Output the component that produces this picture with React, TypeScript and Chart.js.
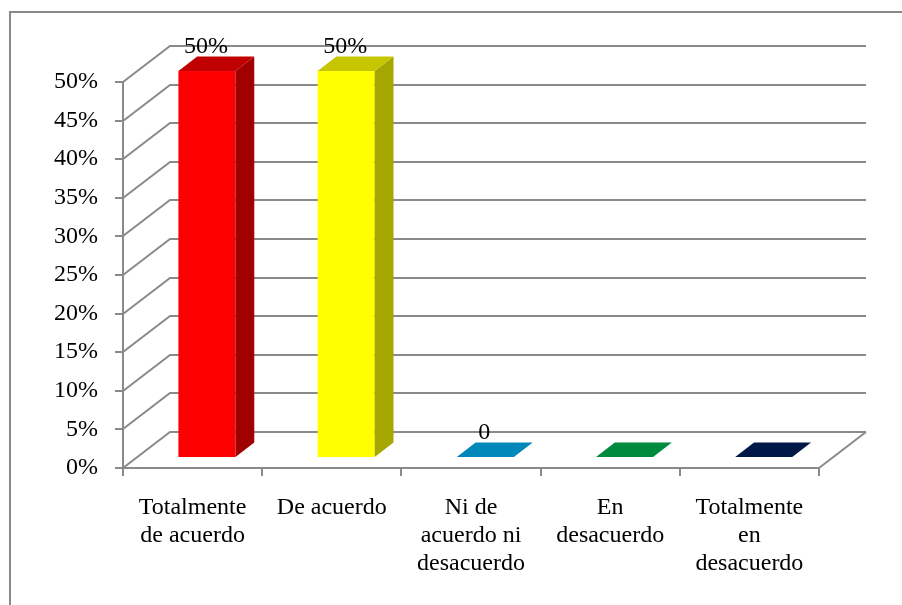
import React, { useEffect, useRef } from "react";
import { Chart, registerables } from "chart.js";

Chart.register(...registerables);

// ---- data ----
const categories: string[][] = [
  ["Totalmente", "de acuerdo"],
  ["De acuerdo"],
  ["Ni de", "acuerdo ni", "desacuerdo"],
  ["En", "desacuerdo"],
  ["Totalmente", "en", "desacuerdo"],
];
const values: number[] = [0.5, 0.5, 0, 0, 0];
const valueLabels: string[] = ["50%", "50%", "0", "", ""];
const yMin = 0;
const yMax = 0.5;
const yStep = 0.05;

// ---- styles ----
const FONT = "'Liberation Serif', 'Times New Roman', serif";
const GRID = "#8a8a8a";
const frontColors = ["#ff0000", "#ffff00", "#0a9bd0", "#00a24a", "#002060"];
const topColors = ["#c00000", "#c6c600", "#0088ba", "#008a3e", "#001848"];
const sideColors = ["#a00000", "#a6a600", "#006f99", "#006e31", "#00123a"];

const DX = 47;
const DY = 36;
const D1 = 0.305;
const D2 = 0.705;

const threeD = {
  id: "threeD",
  beforeDraw(chart: any) {
    const { ctx } = chart;
    ctx.save();
    ctx.strokeStyle = GRID;
    ctx.lineWidth = 2;
    ctx.beginPath();
    ctx.moveTo(10, 605);
    ctx.lineTo(10, 12);
    ctx.lineTo(902, 12);
    ctx.stroke();
    ctx.restore();
  },
  beforeDatasetsDraw(chart: any) {
    const { ctx, chartArea: a } = chart;
    const y = chart.scales.y;
    ctx.save();
    ctx.strokeStyle = GRID;
    ctx.lineWidth = 2;
    y.ticks.forEach((t: any) => {
      const py = Math.round(y.getPixelForValue(t.value));
      ctx.beginPath();
      ctx.moveTo(a.left, py);
      ctx.lineTo(a.left + DX, py - DY);
      ctx.lineTo(a.right + DX, py - DY);
      ctx.stroke();
    });
    ctx.beginPath();
    ctx.moveTo(a.right, a.bottom);
    ctx.lineTo(a.right + DX, a.bottom - DY);
    ctx.stroke();
    ctx.restore();
  },
  afterDatasetsDraw(chart: any) {
    const { ctx } = chart;
    const y = chart.scales.y;
    const meta = chart.getDatasetMeta(0);
    const base = y.getPixelForValue(0);
    ctx.save();
    meta.data.forEach((el: any, i: number) => {
      const v = values[i];
      const top = y.getPixelForValue(v);
      const w = el.width;
      const fx = el.x - w / 2 + D1 * DX;
      const fTop = top - D1 * DY;
      const fBot = base - D1 * DY;
      const ddx = (D2 - D1) * DX;
      const ddy = (D2 - D1) * DY;
      if (fBot - fTop > 0.5) {
        // front
        ctx.fillStyle = frontColors[i];
        ctx.fillRect(fx, fTop, w, fBot - fTop);
        // side
        ctx.fillStyle = sideColors[i];
        ctx.beginPath();
        ctx.moveTo(fx + w, fTop);
        ctx.lineTo(fx + w + ddx, fTop - ddy);
        ctx.lineTo(fx + w + ddx, fBot - ddy);
        ctx.lineTo(fx + w, fBot);
        ctx.closePath();
        ctx.fill();
      }
      // top
      ctx.fillStyle = topColors[i];
      ctx.beginPath();
      ctx.moveTo(fx, fTop);
      ctx.lineTo(fx + w, fTop);
      ctx.lineTo(fx + w + ddx, fTop - ddy);
      ctx.lineTo(fx + ddx, fTop - ddy);
      ctx.closePath();
      ctx.fill();
      // label
      const lbl = valueLabels[i];
      if (lbl) {
        ctx.fillStyle = "#000";
        ctx.font = `24px ${FONT}`;
        ctx.textAlign = "center";
        ctx.textBaseline = "middle";
        ctx.fillText(lbl, fx + w / 2 - 1, fTop - ddy - 10);
      }
    });
    ctx.restore();
  },
};

export default function App() {
  const ref = useRef<HTMLCanvasElement | null>(null);
  useEffect(() => {
    if (!ref.current) return;
    const chart = new Chart(ref.current, {
      type: "bar",
      data: {
        labels: categories,
        datasets: [
          {
            data: values,
            backgroundColor: "rgba(0,0,0,0)",
            borderWidth: 0,
            barPercentage: 0.41,
            categoryPercentage: 1,
          },
        ],
      },
      options: {
        responsive: false,
        animation: false,
        events: [],
        layout: { padding: { top: 82, right: 83, left: 0, bottom: 0 } },
        plugins: { legend: { display: false }, tooltip: { enabled: false } },
        scales: {
          x: {
            afterFit: (s: any) => {
              s.height = 137;
            },
            grid: {
              drawOnChartArea: false,
              drawTicks: true,
              tickLength: 8,
              color: GRID,
              lineWidth: 2,
            },
            border: { display: true, color: GRID, width: 2 },
            ticks: {
              color: "#000",
              padding: 18,
              maxRotation: 0,
              autoSkip: false,
              font: { family: FONT, size: 24, lineHeight: 28 / 24 },
            },
          },
          y: {
            min: yMin,
            max: yMax,
            afterFit: (s: any) => {
              s.width = 123;
            },
            grid: {
              drawOnChartArea: false,
              drawTicks: true,
              tickLength: 8,
              color: GRID,
              lineWidth: 2,
            },
            border: { display: true, color: GRID, width: 2 },
            ticks: {
              stepSize: yStep,
              color: "#000",
              padding: 17,
              font: { family: FONT, size: 24 },
              callback: (v: any) => Math.round(Number(v) * 100) + "%",
            },
          },
        },
      },
      plugins: [threeD],
    });
    return () => chart.destroy();
  }, []);
  return (
    <div style={{ position: "fixed", left: 0, top: 0, width: 902, height: 605, background: "#fff" }}>
      <canvas ref={ref} width={902} height={605} style={{ display: "block" }} />
    </div>
  );
}
